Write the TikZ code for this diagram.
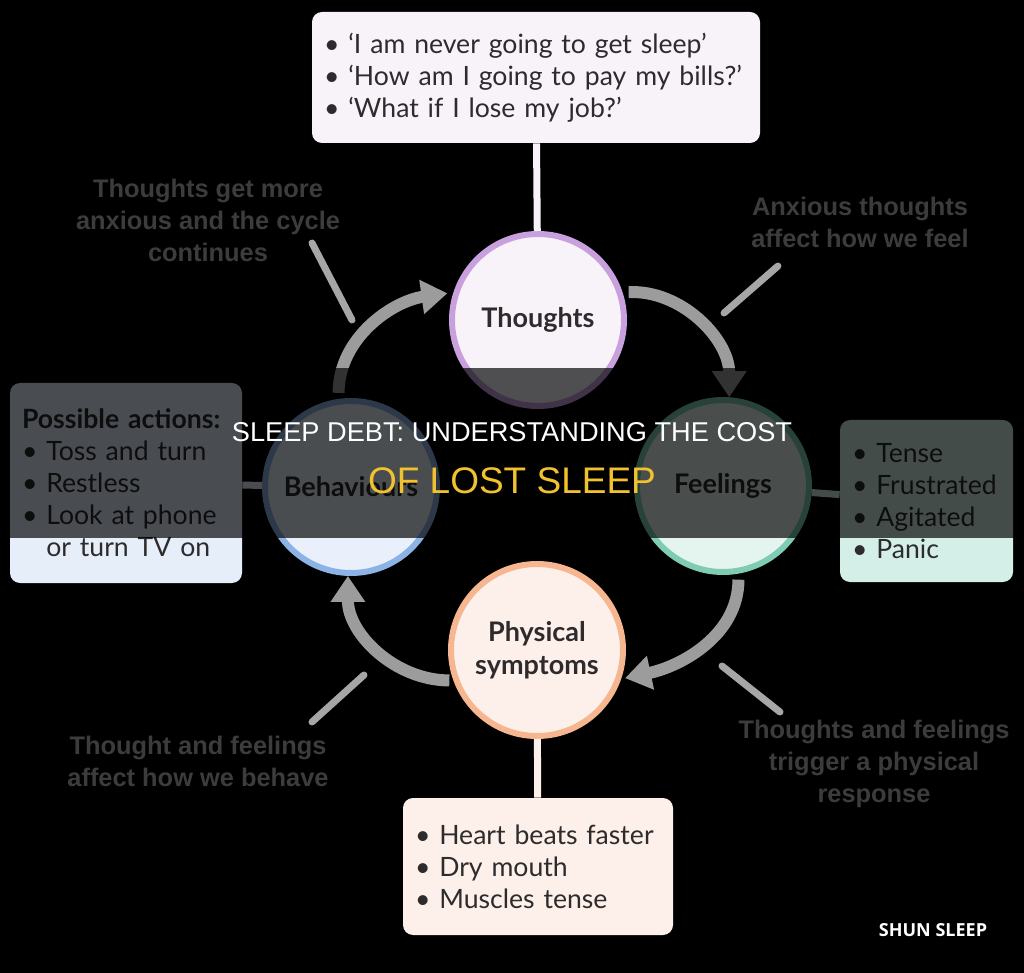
\documentclass[tikz,border=0pt]{standalone}
\usepackage{fontspec}
\setmainfont{Lato}
\newfontfamily\notefont{Liberation Sans}
\newfontfamily\brandfont{Open Sans}
\usetikzlibrary{arrows.meta}

\definecolor{ink}{HTML}{2E2B2D}
\definecolor{notegray}{HTML}{3C3C3C}
\definecolor{arrowgray}{HTML}{9C9C9C}
\definecolor{pointergray}{HTML}{A6A6A6}
\definecolor{thoughtsedge}{HTML}{C9A0DE}
\definecolor{thoughtsfill}{HTML}{F8F3F9}
\definecolor{feelingsedge}{HTML}{7FCBB4}
\definecolor{feelingsfill}{HTML}{E4F4EF}
\definecolor{behavedge}{HTML}{8DB3E6}
\definecolor{behavfill}{HTML}{E9F0FB}
\definecolor{physedge}{HTML}{F5B690}
\definecolor{physfill}{HTML}{FDF0EA}
\definecolor{feelingsbg}{HTML}{D4EFE7}
\definecolor{actionsbg}{HTML}{E6EEFA}
\definecolor{titleyellow}{HTML}{F2C12E}

\begin{document}
\begin{tikzpicture}[
    x=0.5pt, y=-0.5pt,
    stage/.style={circle, line width=3pt, minimum size=86pt, inner sep=0pt, align=center, text=ink, font=\bfseries\fontsize{13.5}{16.5}\selectfont},
    listbox/.style={rounded corners=5pt, inner xsep=6pt, inner ysep=0pt, align=left, text=ink, font=\fontsize{13.3}{16}\selectfont},
    note/.style={align=center, inner sep=0pt, text=notegray, font=\notefont\bfseries\fontsize{12.7}{16}\selectfont},
    link/.style={line width=3.5pt},
    looparrow/.style={-{Triangle[width=16.5pt,length=13pt]}, line width=6pt, draw=arrowgray},
    pointer/.style={line width=3.5pt, draw=pointergray, line cap=round},
]
    \fill[black] (0,0) rectangle (1024,973);
    \useasboundingbox (0,0) rectangle (1024,973);

    % the four stages of the cycle
    \node[stage, draw=thoughtsedge, fill=thoughtsfill] (thoughts) at (538,320) {Thoughts};
    \node[stage, draw=feelingsedge, fill=feelingsfill] (feelings) at (723,486) {Feelings};
    \node[stage, draw=behavedge, fill=behavfill] (behaviours) at (351,487) {Behaviours};
    \node[stage, draw=physedge, fill=physfill] (physical) at (537,650) {Physical\\symptoms};

    % boxes with examples
    \node[listbox, fill=thoughtsfill, minimum width=224pt, minimum height=65.5pt, text width=212pt] (thoughtsbox) at (536,77.5)
        {\textbullet\ `I am never going to get sleep'\\\textbullet\ `How am I going to pay my bills?'\\\textbullet\ `What if I lose my job?'};
    \node[listbox, fill=actionsbg, minimum width=116pt, minimum height=100pt, text width=104pt] (actionsbox) at (126,483)
        {\textbf{Possible actions:}\\\textbullet\ Toss and turn\\\textbullet\ Restless\\\textbullet\ Look at phone\\\phantom{\textbullet\ }or turn TV on};
    \node[listbox, fill=feelingsbg, minimum width=86.5pt, minimum height=81pt, text width=74.5pt] (feelingsbox) at (926.5,501)
        {\textbullet\ Tense\\\textbullet\ Frustrated\\\textbullet\ Agitated\\\textbullet\ Panic};
    \node[listbox, fill=physfill, minimum width=135pt, minimum height=68.5pt, text width=123pt] (symptomsbox) at (538,866.5)
        {\textbullet\ Heart beats faster\\\textbullet\ Dry mouth\\\textbullet\ Muscles tense};

    \draw[link, draw=thoughtsfill] (thoughtsbox) -- (thoughts);
    \draw[link, draw=actionsbg] (actionsbox) -- (behaviours);
    \draw[link, draw=feelingsbg] (feelings) -- (feelingsbox);
    \draw[link, draw=physfill] (physical) -- (symptomsbox);

    % arrows round the cycle
    \draw[looparrow, shorten <=3pt] (thoughts.18) to[out=3, in=90] (feelings.86);
    \draw[looparrow, shorten <=3pt, shorten >=2pt] (feelings.-80) to[out=-90, in=12] (physical.-19);
    \draw[looparrow, shorten <=2pt] (physical.-160) to[out=180, in=-90] (behaviours.-92);
    \draw[looparrow, shorten <=3pt, shorten >=3pt] (behaviours.98) to[out=90, in=188] (thoughts.162);

    % notes with pointers
    \node[note] (cyclenote) at (208,220) {Thoughts get more\\anxious and the cycle\\continues};
    \node[note] (feelnote) at (860,222) {Anxious thoughts\\affect how we feel};
    \node[note] (physnote) at (874,764) {Thoughts and feelings\\trigger a physical\\response};
    \node[note] (behavenote) at (198,761) {Thought and feelings\\affect how we behave};

    \coordinate (cyclefrom) at (312,243);
    \coordinate (cycleto) at (352,320);
    \coordinate (feelfrom) at (778,266);
    \coordinate (feelto) at (724,313);
    \coordinate (physfrom) at (780,712);
    \coordinate (physto) at (722,666);
    \coordinate (behavefrom) at (312,722);
    \coordinate (behaveto) at (364,675);
    \draw[pointer] (cyclefrom) -- (cycleto);
    \draw[pointer] (feelfrom) -- (feelto);
    \draw[pointer] (physfrom) -- (physto);
    \draw[pointer] (behavefrom) -- (behaveto);

    % title band
    \fill[black, opacity=0.68] (0,368) rectangle (1024,538);
    \node[text=white, font=\notefont\fontsize{13.6}{16}\selectfont] (title) at (512,432) {SLEEP DEBT: UNDERSTANDING THE COST};
    \node[text=titleyellow, font=\notefont\fontsize{18.5}{22}\selectfont] (subtitle) at (512,481) {OF LOST SLEEP};

    \node[text=white, font=\brandfont\bfseries\fontsize{9}{10}\selectfont] (brand) at (933,930) {SHUN SLEEP};
\end{tikzpicture}
\end{document}
